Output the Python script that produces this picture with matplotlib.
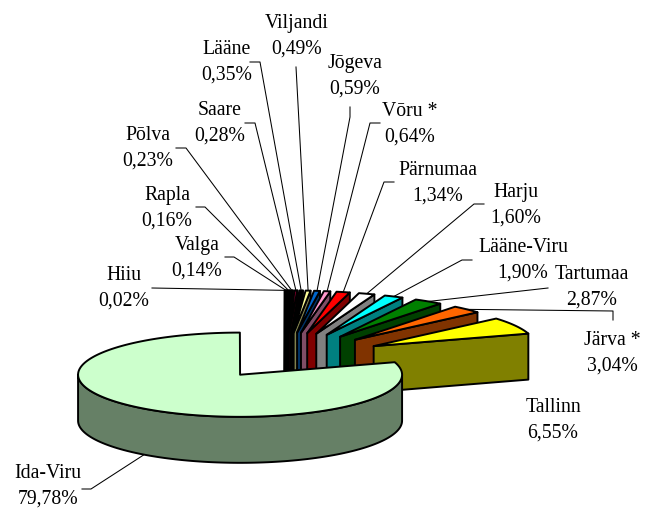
import numpy as np
import matplotlib
matplotlib.use('Agg')
import matplotlib.pyplot as plt
from matplotlib.patches import Polygon

# clockwise from 12 o'clock
names = ['Hiiu', 'Valga', 'Rapla', 'Pōlva', 'Saare', 'Lääne', 'Viljandi', 'Jōgeva',
         'Vōru *', 'Pärnumaa', 'Harju', 'Lääne-Viru', 'Tartumaa', 'Järva *', 'Tallinn', 'Ida-Viru']
values = [0.02, 0.14, 0.16, 0.23, 0.28, 0.35, 0.49, 0.59,
          0.64, 1.34, 1.60, 1.90, 2.87, 3.04, 6.55, 79.78]
colors = ['#000000', '#993366', '#660066', '#000000', '#990033', '#000000', '#FFFF99', '#0066CC',
          '#FF99CC', '#FF0000', '#FFFFFF', '#00FFFF', '#008000', '#FF6600', '#FFFF00', '#CCFFCC']
walls = ['#000000', '#804D66', '#330033', '#000000', '#4D0019', '#000000', '#80804D', '#003366',
         '#804D66', '#800000', '#808080', '#008080', '#004000', '#803300', '#808000', '#668066']

# label centre and the elbow the leader line leaves from
label_pos = [(124, 288), (197, 258), (167, 208), (148, 148), (220, 123), (227, 62), (297, 36), (355, 76),
             (410, 124), (438, 183), (516, 205), (523, 260), (592, 287), (612, 353), (553, 420), (48, 486)]
leader_pts = [[(152, 288)], [(234, 257), (225, 257)], [(205, 207), (196, 207)], [(186, 148), (176, 148)],
              [(255, 123), (245, 123)], [(260, 62), (250, 62)], [(296, 67)], [(350, 117), (350, 107)],
              [(370, 123), (380, 123)], [(384, 182), (394, 182)], [(474, 204), (484, 204)], [(462, 260), (472, 260)],
              [(548, 288)], [(613, 311), (613, 320)], [], [(91, 489), (82, 489)]]

cx, cy = 284.5, 359
R = 162
squash = 0.26
depth = 46
explode = 102
explode_big = 75

plt.rcParams['font.family'] = ['Liberation Serif', 'DejaVu Serif']

fig = plt.figure(figsize=(6.45, 5.08), dpi=100)
ax = fig.add_axes([0, 0, 1, 1])
ax.set_xlim(0, 645)
ax.set_ylim(508, 0)
ax.axis('off')


def rim(ox, oy, angles):
    a = np.radians(angles)
    return np.column_stack([ox + R * np.cos(a), oy - R * squash * np.sin(a)])


def fmt(v):
    return f'{v:.2f}%'.replace('.', ',')


start = 90.0
for i, v in enumerate(values):
    end = start - v * 3.6
    mid = (start + end) / 2
    d = explode_big if names[i] == 'Ida-Viru' else explode
    ox = cx + d * np.cos(np.radians(mid))
    oy = cy - d * squash * np.sin(np.radians(mid))
    arc = rim(ox, oy, np.linspace(start, end, max(int(v * 6), 4)))

    # leader line from the label to the rim
    target = rim(ox, oy, np.array([mid]))[0]
    if names[i] == 'Ida-Viru':
        target = rim(ox, oy + depth, np.array([mid]))[0]
    pts = leader_pts[i]
    if pts:
        line = np.array(pts[::-1] + [tuple(target)])
        ax.plot(line[:, 0], line[:, 1], color='black', lw=0.75, zorder=i * 2 + 1)

    if names[i] == 'Ida-Viru':
        # outer wall, front half only
        front = rim(ox, oy, np.linspace(0, -180, 120))
        wall = np.vstack([front, (front + [0, depth])[::-1]])
    else:
        # cut face at the clockwise end of the slice
        p = arc[-1]
        wall = np.array([[ox, oy], p, p + [0, depth], [ox, oy + depth]])
    top = np.vstack([[ox, oy], arc])
    ax.add_patch(Polygon(wall, closed=True, fc=walls[i], ec='black', lw=1.4, joinstyle='round', zorder=i * 2 + 2))
    ax.add_patch(Polygon(top, closed=True, fc=colors[i], ec='black', lw=1.4, joinstyle='round', zorder=i * 2 + 2))

    ax.text(label_pos[i][0], label_pos[i][1], names[i] + '\n' + fmt(v), ha='center', va='center',
            fontsize=14.2, linespacing=1.49, color='black', zorder=100)
    start = end

fig.savefig('out.png', dpi=100)
